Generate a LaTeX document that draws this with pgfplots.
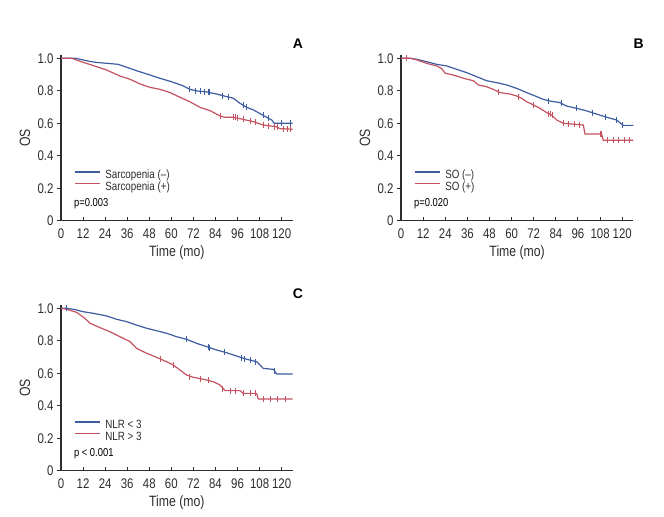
\documentclass[border=0pt]{standalone}
\usepackage{fontspec}
\setmainfont{Liberation Sans}
\newfontfamily\cond{Liberation Sans}[FakeStretch=0.82]
\usepackage{pgfplots}
\pgfplotsset{compat=1.18}
\definecolor{kmblue}{RGB}{62,92,160}
\definecolor{kmred}{RGB}{196,82,96}
\definecolor{axgray}{RGB}{45,45,45}
\pgfplotsset{km/.style={
  scale only axis, width=231.7bp, height=165.65bp,
  xmin=0, xmax=126, ymin=0, ymax=1.02,
  clip=false,
  axis x line=bottom, axis y line=left,
  axis line style={-, axgray, line width=1.4bp},
  xtick={0,12,24,36,48,60,72,84,96,108,120},
  xticklabels={0,12,24,36,48,60,72,84,96,108,120},
  ytick={0,0.2,0.4,0.6,0.8,1},
  yticklabels={0,0.2,0.4,0.6,0.8,1.0},
  xtick align=inside, ytick align=outside, major tick length=4bp,
  tick style={axgray, line width=1bp},
  tick label style={font=\cond\fontsize{14}{14}\selectfont, text=axgray},
  xticklabel style={yshift=-5bp},
  /pgf/number format/assume math mode=true,
  xlabel style={at={(axis description cs:0.5,0)}, anchor=center, yshift=-31.5bp, font=\cond\fontsize{15}{15}\selectfont, text=axgray},
  ylabel style={at={(axis description cs:-0.155,0.5)}, anchor=center, font=\cond\fontsize{15}{15}\selectfont, text=axgray},
  xlabel={Time (mo)}, ylabel={OS},
  legend style={draw=none, fill=none, at={(axis cs:7,0.243)}, anchor=west, inner sep=0pt,
    font=\cond\fontsize{12}{12}\selectfont, text=axgray, row sep=0pt,
    nodes={inner sep=0.8bp},
    /tikz/every odd column/.append style={column sep=4bp}},
  legend cell align=left,
  legend image code/.code={\draw[#1, line width=1.4bp] (0bp,3.5bp) -- (25bp,3.5bp);},
  every axis plot/.append style={line width=1.2bp},
  cens/.style={only marks, mark=|, mark size=3bp, mark options={line width=1bp}, forget plot},
}}
\newcommand{\plab}[1]{\node[font=\bfseries\fontsize{14}{14}\selectfont, text=black] at (axis cs:128.9,1.088) {#1};}
\newcommand{\pval}[1]{\node[anchor=west, inner sep=0pt, font=\cond\fontsize{11.5}{11.5}\selectfont, text=black] at (axis cs:7,0.103) {#1};}
\begin{document}
\begin{tikzpicture}
\useasboundingbox (0,0) rectangle (664bp,517bp);
% ---------------- Panel A
\begin{axis}[km, at={(61bp,296.3bp)}, anchor=south west]
\addplot[kmblue] coordinates {(0,1)(8,1)(12,0.99)(16,0.98)(19,0.975)(25,0.969)(31,0.963)(35.7,0.945)(41,0.924)(48.4,0.897)(53.8,0.877)(60,0.856)(66.5,0.83)(70,0.809)(73.8,0.799)(79.2,0.793)(84.6,0.78)(90,0.764)(93.7,0.754)(97.3,0.723)(101,0.698)(104.6,0.682)(108,0.661)(111.8,0.637)(114.6,0.62)(115.5,0.606)(116,0.60)(126,0.60)};
\addlegendentry{Sarcopenia (–)}
\addplot[kmred] coordinates {(0,1)(5.8,1)(12.1,0.975)(17.6,0.955)(24.8,0.928)(32,0.891)(37.5,0.871)(43,0.842)(48.4,0.821)(53.8,0.809)(59.3,0.789)(64.7,0.76)(70,0.733)(75.6,0.698)(81,0.678)(86.5,0.645)(89,0.637)(93.7,0.637)(99,0.624)(104.6,0.61)(110,0.589)(117,0.579)(119,0.567)(126,0.563)};
\addlegendentry{Sarcopenia (+)}
\addplot[kmblue, cens] coordinates {(70,0.809)(73,0.801)(76,0.797)(78,0.794)(80,0.792)(81,0.79)(88,0.77)(91,0.762)(99,0.71)(101,0.698)(110,0.649)(113,0.63)(120,0.60)(125,0.60)};
\addplot[kmred, cens] coordinates {(87,0.642)(94,0.636)(95,0.636)(96,0.635)(99,0.624)(103,0.614)(106,0.607)(110,0.589)(113,0.585)(116,0.58)(118,0.575)(121,0.565)(123,0.564)(125,0.563)};
\plab{A}
\pval{p=0.003}
\end{axis}
% ---------------- Panel B
\begin{axis}[km, at={(401bp,296.3bp)}, anchor=south west, width=232.3bp]
\addplot[kmblue] coordinates {(0,1)(5,1)(8.5,0.994)(13.9,0.979)(19.3,0.963)(24.8,0.953)(30.2,0.932)(35.6,0.912)(41,0.887)(46.4,0.862)(51.9,0.85)(57.3,0.836)(62.7,0.815)(68.1,0.789)(73.6,0.764)(77.2,0.747)(80.7,0.737)(86.2,0.727)(89.8,0.706)(95.2,0.692)(100.7,0.676)(106,0.657)(111.5,0.637)(117,0.62)(119.6,0.595)(120.5,0.587)(126,0.587)};
\addlegendentry{SO (–)}
\addplot[kmred] coordinates {(0,1)(5,1)(8.5,0.99)(13.9,0.969)(19.3,0.953)(22,0.938)(23.9,0.908)(28.4,0.897)(33.8,0.877)(39.2,0.862)(41.9,0.836)(46.4,0.825)(50,0.809)(53.7,0.789)(59.1,0.78)(62.7,0.768)(65.4,0.754)(68.1,0.733)(71.8,0.713)(75.4,0.692)(79,0.665)(81.7,0.651)(84.4,0.62)(88,0.60)(98.9,0.589)(99.8,0.534)(108.8,0.534)(109.7,0.495)(126,0.495)};
\addlegendentry{SO (+)}
\addplot[kmblue, cens] coordinates {(80,0.739)(87,0.725)(95,0.692)(104,0.664)(111,0.639)(117,0.62)(120,0.59)};
\addplot[kmred, cens] coordinates {(3,1)(53,0.79)(64,0.76)(72,0.712)(80,0.66)(81,0.655)(82,0.648)(88,0.60)(91,0.595)(94,0.593)(97,0.59)(108,0.534)(109,0.534)(112,0.495)(115,0.495)(118,0.495)(121,0.495)(124,0.495)};
\plab{B}
\pval{p=0.020}
\end{axis}
% ---------------- Panel C
\begin{axis}[km, at={(61bp,46.3bp)}, anchor=south west]
\addplot[kmblue] coordinates {(0,1)(3,1)(6.7,0.994)(12.1,0.979)(17.6,0.969)(24.8,0.953)(30.3,0.932)(35.7,0.918)(41,0.897)(46.6,0.877)(52,0.862)(57.5,0.846)(62.9,0.825)(68.3,0.809)(73.8,0.784)(79.2,0.764)(84.6,0.743)(90,0.727)(95.5,0.706)(101,0.686)(106.4,0.671)(110,0.63)(115.5,0.624)(117.3,0.595)(126,0.595)};
\addlegendentry{NLR < 3}
\addplot[kmred] coordinates {(0,1)(3,0.994)(8.5,0.975)(13,0.938)(15.8,0.908)(21.2,0.881)(26.6,0.856)(32,0.825)(37.5,0.795)(41,0.754)(46.6,0.723)(52,0.698)(57.5,0.671)(61,0.651)(64.7,0.62)(68.3,0.589)(72,0.575)(77.4,0.563)(82.8,0.548)(86.5,0.528)(89.2,0.493)(97.3,0.493)(99.1,0.476)(106.4,0.476)(107.3,0.441)(126,0.441)};
\addlegendentry{NLR > 3}
\addplot[kmblue, cens] coordinates {(3,1)(68,0.81)(80,0.76)(81,0.756)(89,0.73)(98,0.697)(100,0.69)(103,0.68)(106,0.672)(116,0.615)};
\addplot[kmred, cens] coordinates {(54,0.69)(61,0.651)(70,0.58)(76,0.565)(80,0.556)(88,0.50)(92,0.493)(95,0.493)(99,0.48)(103,0.476)(106,0.476)(110,0.441)(114,0.441)(118,0.441)(122,0.441)};
\plab{C}
\pval{p < 0.001}
\end{axis}
\end{tikzpicture}
\end{document}
